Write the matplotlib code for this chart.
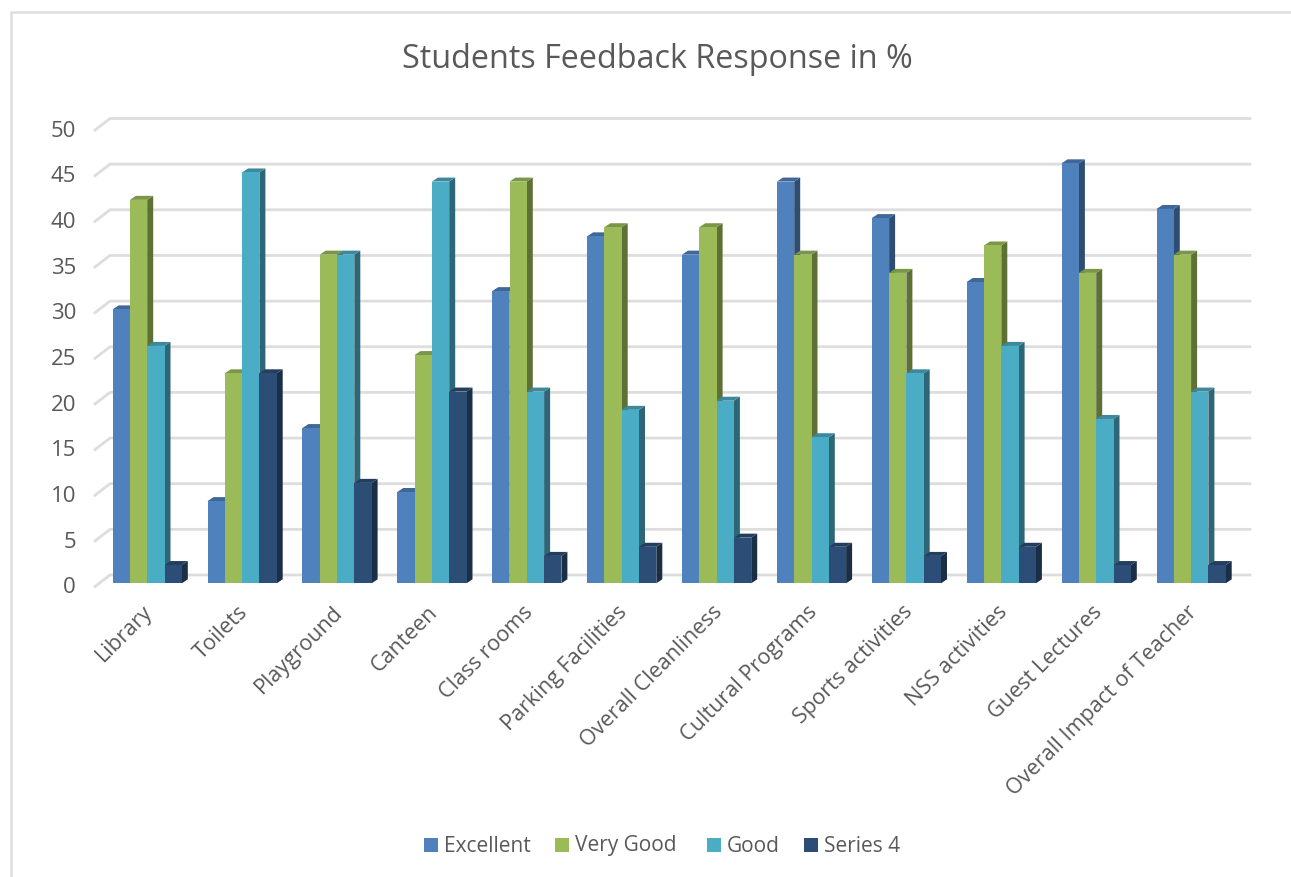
#!/usr/bin/env python3
import matplotlib
matplotlib.use("Agg")
import matplotlib.pyplot as plt
from matplotlib.patches import Rectangle
import numpy as np

CATEGORIES = ["Library", "Toilets", "Playground", "Canteen", "Class rooms",
              "Parking Facilities", "Overall Cleanliness", "Cultural Programs",
              "Sports activities", "NSS activities", "Guest Lectures",
              "Overall Impact of Teacher"]
EXCELLENT = [30, 9, 17, 10, 32, 38, 36, 44, 40, 33, 46, 41]
VERY_GOOD = [42, 23, 36, 25, 44, 39, 39, 36, 34, 37, 34, 36]
GOOD = [26, 45, 36, 44, 21, 19, 20, 16, 23, 26, 18, 21]
SERIES_4 = [2, 23, 11, 21, 3, 4, 5, 4, 3, 4, 2, 2]
SERIES_NAMES = ["Excellent", "Very Good", "Good", "Series 4"]
Y_TICKS = [0, 5, 10, 15, 20, 25, 30, 35, 40, 45, 50]

FACE = ["#4F81BD", "#9BBB59", "#4BACC6", "#2C4D75"]
TOP = ["#3F6797", "#7C9647", "#3C899E", "#233E5E"]
SIDE = ["#2F4D71", "#5D7035", "#2D6777", "#1A2E46"]
TEXT = "#595959"
GRID = "#DDDDDD"

W, H = 1291, 877
X0, PX_X = 147.2, 94.9
Y0, PX_Y = 583.3, 9.13

plt.rcParams["font.family"] = ["Open Sans", "DejaVu Sans"]

fig = plt.figure(figsize=(W / 100, H / 100), dpi=100)
ax = fig.add_axes([0, 0, 1, 1])
ax.set_xlim(-X0 / PX_X, (W - X0) / PX_X)
ax.set_ylim(-(H - Y0) / PX_Y, Y0 / PX_Y)
ax.axis("off")

bar_w = 17.3 / PX_X
dep_x = 6 / PX_X
dep_y = 4 / PX_Y

# marco gris del grafico, solo arriba y a la izquierda
fig.add_artist(plt.Line2D([11 / W, 11 / W, 1 / 1], [0, 1 - 12 / H, 1 - 12 / H],
                          color="#DEDEDE", lw=1.8, solid_joinstyle="miter"))

# pared del fondo y suelo, lineas en perspectiva
left_front = (95 - X0) / PX_X
left_back = (110 - X0) / PX_X
right_back = (1250 - X0) / PX_X
front_y = -3.3 / PX_Y
back_y = 8.3 / PX_Y
for t in Y_TICKS:
    ax.plot([left_front, left_back, right_back],
            [t + front_y, t + back_y, t + back_y],
            color=GRID, lw=2.0, solid_joinstyle="miter", zorder=1)
    ax.text(left_front - 19 / PX_X, t + front_y - 0.12, str(t), ha="right", va="center",
            fontsize=16, color=TEXT)

series = [EXCELLENT, VERY_GOOD, GOOD, SERIES_4]
for i in range(len(CATEGORIES)):
    for j, vals in enumerate(series):
        v = vals[i]
        x = i + (j - 2) * bar_w
        z = 2 + j * 0.1
        ax.fill([x + bar_w, x + bar_w + dep_x, x + bar_w + dep_x, x + bar_w],
                [0, dep_y, v + dep_y, v], color=SIDE[j], lw=0, zorder=z)
        ax.fill([x, x + dep_x, x + bar_w + dep_x, x + bar_w],
                [v, v + dep_y, v + dep_y, v], color=TOP[j], lw=0, zorder=z)
        ax.add_patch(Rectangle((x, 0), bar_w, v, fc=FACE[j], lw=0, zorder=z + 0.05))

for i, c in enumerate(CATEGORIES):
    ax.text(i - 0.05, -2.0, c, rotation=45, rotation_mode="anchor", ha="right", va="top",
            fontsize=15.6, color=TEXT)

ax.text((657 - X0) / PX_X, (Y0 - 60) / PX_Y, "Students Feedback Response in %",
        ha="center", va="center", fontsize=23.3, color=TEXT)

# leyenda colocada a mano como en el original
leg_sw = [424, 555, 707, 804]
leg_tx = [444, 575, 727, 824]
for j, name in enumerate(SERIES_NAMES):
    ax.add_patch(Rectangle(((leg_sw[j] - X0) / PX_X, (Y0 - 852) / PX_Y),
                           14 / PX_X, 14 / PX_Y, fc=FACE[j], lw=0, zorder=3))
    ax.text((leg_tx[j] - X0) / PX_X, (Y0 - 846) / PX_Y, name, ha="left", va="center",
            fontsize=15, color=TEXT)

fig.savefig("out.png", dpi=100, facecolor="white")
